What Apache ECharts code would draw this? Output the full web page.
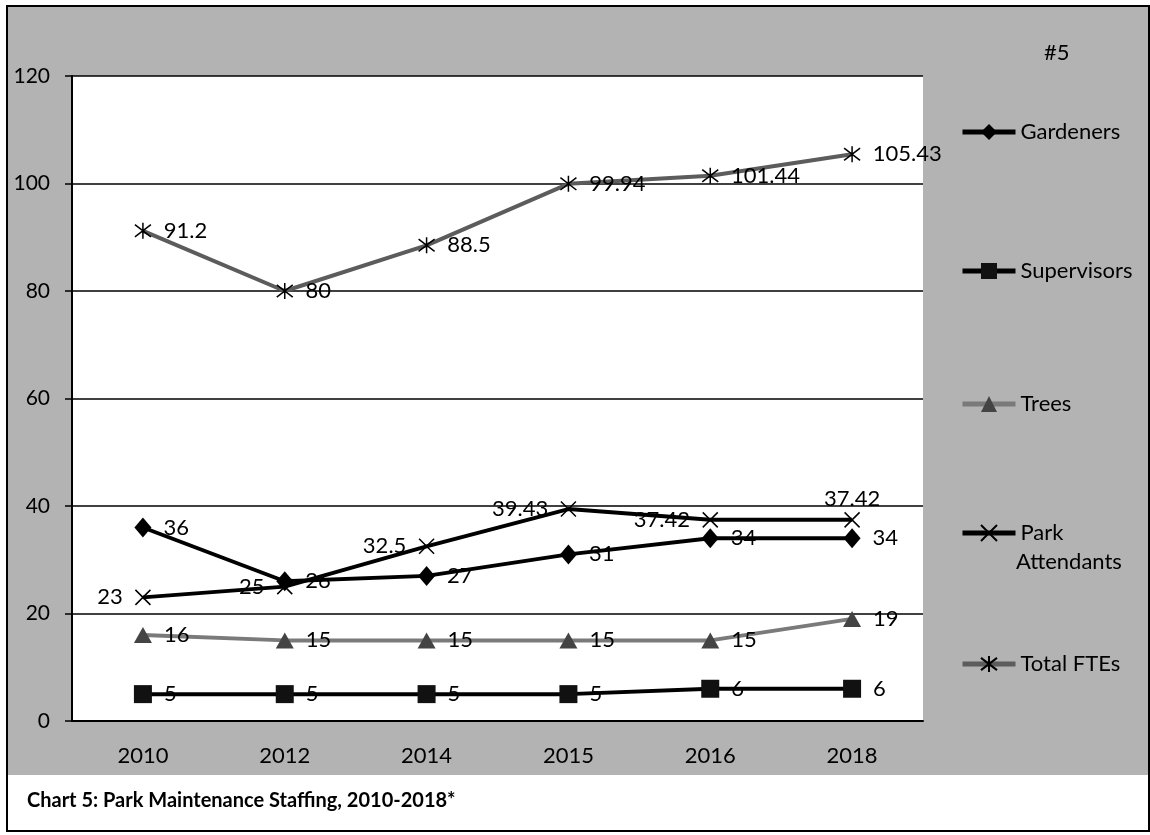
<!DOCTYPE html>
<html>
<head>
<meta charset="utf-8">
<script src="https://cdn.jsdelivr.net/npm/echarts@6/dist/echarts.min.js"></script>
<style>
html,body{margin:0;padding:0;background:#fff;}
#wrap{position:relative;width:1150px;height:835px;}
#bg{position:absolute;left:6px;top:5px;width:1140px;height:769px;background:#b3b3b3;border:2px solid #000;}
#cap{position:absolute;left:6px;top:775px;width:1140px;height:55px;background:#fff;border:2px solid #000;border-top:none;}
#chart{position:absolute;left:0;top:0;width:1150px;height:835px;}
</style>
</head>
<body>
<div id="wrap"><div id="bg"></div><div id="cap"></div><div id="chart"></div></div>
<script>
const years = ['2010','2012','2014','2015','2016','2018'];
const gardeners = [36,26,27,31,34,34];
const supervisors = [5,5,5,5,6,6];
const trees = [16,15,15,15,15,19];
const parkAttendants = [23,25,32.5,39.43,37.42,37.42];
const totalFTEs = [91.2,80,88.5,99.94,101.44,105.43];
const yTicks = [0,20,40,60,80,100,120];

const FONT = 'Lato, "Open Sans", sans-serif';
const chart = echarts.init(document.getElementById('chart'));
const lbl = (pos, dist) => ({show:true, position:pos, distance:dist, color:'#000', fontSize:22, fontFamily:FONT});
const xPath = 'path://M0,0L10,10M10,0L0,10';
const starPath = 'path://M0,0L10,10M10,0L0,10M5,-1.5L5,11.5';

function legendFor(name, top, fmt){
  return {data:[name], left:955, top:top, orient:'vertical', itemWidth:53, itemHeight:20, itemGap:0,
    lineStyle:{width:5},
    textStyle:{fontSize:22, color:'#000', fontFamily:FONT}, formatter: fmt || '{name}'};
}

chart.setOption({
  backgroundColor:'transparent',
  animation:false,
  grid:{left:72, top:76, right:227, bottom:114, show:true, backgroundColor:'#fff', borderWidth:0},
  legend:[
    legendFor('Gardeners',116),
    legendFor('Supervisors',255),
    legendFor('Trees',388),
    legendFor('Park Attendants',517, 'Park'),
    legendFor('Total FTEs',648)
  ],
  graphic:[
    {type:'text', left:1044, top:42, style:{text:'#5', fontSize:22, fill:'#000', fontFamily:FONT}},
    {type:'text', left:1016, top:551, style:{text:'Attendants', fontSize:22, fill:'#000', fontFamily:FONT}},
    {type:'text', left:27, top:791, style:{text:'Chart 5: Park Maintenance Staffing, 2010-2018*', fontSize:20, fontWeight:'bold', fill:'#000', fontFamily:FONT}}
  ],
  xAxis:{type:'category', data:years, boundaryGap:true,
    axisLine:{show:true, lineStyle:{color:'#000', width:2}}, axisTick:{show:false},
    axisLabel:{fontSize:22, color:'#000', margin:24, fontFamily:FONT}},
  yAxis:{type:'value', min:yTicks[0], max:yTicks[yTicks.length-1], interval:20,
    axisLine:{show:true, lineStyle:{color:'#000', width:2}},
    axisTick:{show:true, length:7, lineStyle:{color:'#000', width:1.5}},
    splitLine:{show:true, lineStyle:{color:'#000', width:1.5}},
    axisLabel:{fontSize:21, color:'#000', margin:22, fontFamily:FONT}},
  series:[
    {name:'Gardeners', type:'line', data:gardeners, symbol:'diamond', symbolSize:[17,20],
      lineStyle:{color:'#000', width:4}, itemStyle:{color:'#000'}, label:lbl('right',12), z:4},
    {name:'Supervisors', type:'line', data:supervisors, symbol:'rect', symbolSize:18,
      lineStyle:{color:'#000', width:4}, itemStyle:{color:'#111'}, label:lbl('right',12), z:3},
    {name:'Trees', type:'line', data:trees, symbol:'triangle', symbolSize:[18,16],
      lineStyle:{color:'#7a7a7a', width:4}, itemStyle:{color:'#444'}, label:lbl('right',12), z:2},
    {name:'Park Attendants', type:'line',
      data:parkAttendants.map((v,i)=> i===parkAttendants.length-1 ? {value:v, label:{position:'top', distance:2}} : v),
      symbol:xPath, symbolSize:15,
      lineStyle:{color:'#000', width:4}, itemStyle:{color:'#000', borderColor:'#000', borderWidth:1.5},
      label:lbl('left',12), z:5},
    {name:'Total FTEs', type:'line', data:totalFTEs, symbol:starPath, symbolSize:16,
      lineStyle:{color:'#5c5c5c', width:4}, itemStyle:{color:'#000', borderColor:'#000', borderWidth:1.5},
      label:lbl('right',12), z:1}
  ]
});
</script>
</body>
</html>
